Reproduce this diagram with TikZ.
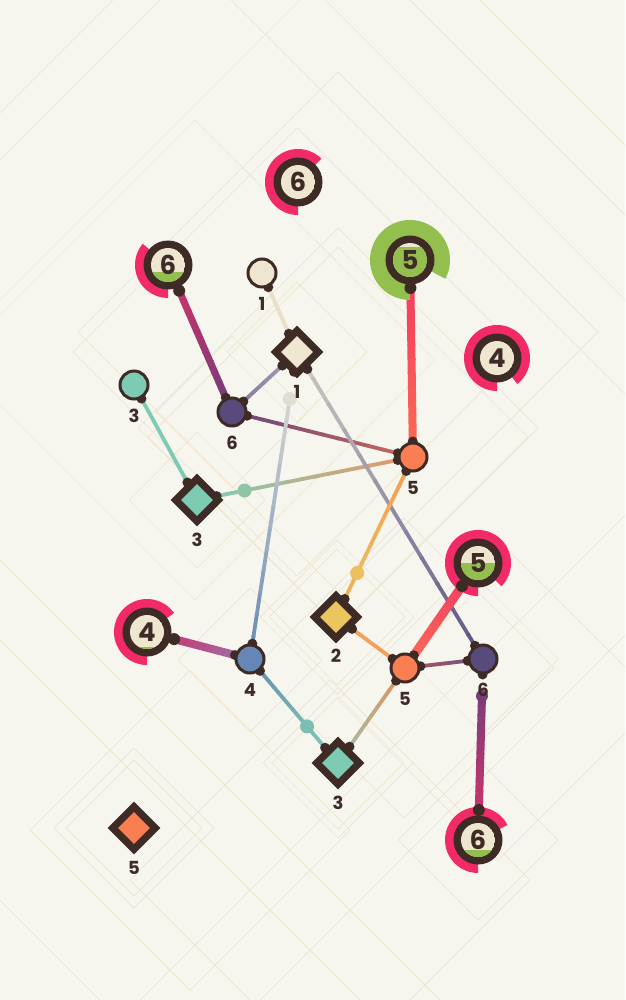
\documentclass[tikz,border=0pt]{standalone}
\usepackage{fontspec}
\newfontfamily\numfont{Poppins}
\usetikzlibrary{calc,shapes.geometric}
\pgfdeclarelayer{back}
\pgfdeclarelayer{edges}
\pgfdeclarelayer{nubs}
\pgfsetlayers{back,edges,nubs,main}
\definecolor{bg}{HTML}{F6F5EE}
\definecolor{bgline}{HTML}{EDE5CE}
\definecolor{dark}{HTML}{3F2B26}
\definecolor{cream}{HTML}{EFE6D0}
\definecolor{pinkarc}{HTML}{F22A68}
\definecolor{greenarc}{HTML}{92BF4E}
\definecolor{teal}{HTML}{7ECBB4}
\definecolor{purp}{HTML}{594A7C}
\definecolor{orng}{HTML}{F97E51}
\definecolor{yell}{HTML}{EBC55F}
\definecolor{blu}{HTML}{6587B5}
\definecolor{mA}{HTML}{C9336C}\definecolor{mB}{HTML}{6F3C7A}
\definecolor{pgA}{HTML}{7F739A}\definecolor{pgB}{HTML}{A9A1B9}
\definecolor{prA}{HTML}{6C4679}\definecolor{prB}{HTML}{C8695C}
\definecolor{cA}{HTML}{F43E5E}\definecolor{cB}{HTML}{FA6B55}
\definecolor{otA}{HTML}{E6956A}\definecolor{otB}{HTML}{98C4A2}
\definecolor{tgA}{HTML}{8DC5A8}
\definecolor{creamline}{HTML}{E8DFC8}
\definecolor{gpA}{HTML}{D2CCC3}\definecolor{gpB}{HTML}{5C5285}
\definecolor{bgA}{HTML}{6587B5}\definecolor{bgB}{HTML}{D6D5D1}
\definecolor{oyA}{HTML}{F69A52}\definecolor{oyB}{HTML}{EEB95C}
\definecolor{oyC}{HTML}{EFB257}
\definecolor{orA}{HTML}{F3A05A}
\definecolor{cC}{HTML}{F2425F}\definecolor{cD}{HTML}{F96F58}
\definecolor{rpA}{HTML}{B0525F}\definecolor{rpB}{HTML}{6E5480}
\definecolor{otC}{HTML}{E58E5F}\definecolor{otD}{HTML}{9EC2A8}
\definecolor{btA}{HTML}{6289B2}\definecolor{btB}{HTML}{7BBBB5}
\definecolor{mvA}{HTML}{C43C78}\definecolor{mvB}{HTML}{9A74A8}
\definecolor{ppA}{HTML}{7B3D79}\definecolor{ppB}{HTML}{C9336C}
\definecolor{rd1}{HTML}{8FC4A5}\definecolor{rd2}{HTML}{E2DDD2}
\definecolor{rd3}{HTML}{EDBF5E}\definecolor{rd4}{HTML}{7CBDB6}
\tikzset{
 srccirc/.style={circle, draw=dark, line width=3pt, minimum size=28pt, inner sep=0pt},
 srcdiam/.style={diamond, fill=dark, minimum width=53pt, minimum height=53pt, inner sep=0pt},
 srcdiamin/.style={diamond, minimum width=32pt, minimum height=32pt, inner sep=0pt},
 lbl/.style={font=\numfont\bfseries\fontsize{18}{18}\selectfont, text=dark, inner sep=0pt},
 sinknum/.style={font=\numfont\bfseries\fontsize{26}{26}\selectfont, text=dark, inner sep=0pt},
 bgl/.style={draw=bgline, line width=0.7pt},
 thin/.style={line width=3.8pt},
}
\newcommand{\gradline}[5]{%
 \foreach \gi in {0,...,11}{%
  \pgfmathsetmacro\gta{\gi/12}%
  \pgfmathsetmacro\gtb{min(1,(\gi+1.1)/12)}%
  \pgfmathtruncatemacro\gpc{100-(\gi+0.5)*100/12}%
  \draw[line width=#5, color=#3!\gpc!#4] ($(#1)!\gta!(#2)$) -- ($(#1)!\gtb!(#2)$);
 }%
}
\newcommand{\nubat}[3]{\fill[dark] ($(#1)!#3!(#2)$) circle[radius=5pt];}
\newcommand{\sinknode}[9]{%
 \fill[#5] ($(#2,-#3)+(#6:#8pt)$) arc[start angle=#6, end angle=#7, radius=#8pt] -- ($(#2,-#3)+(#7:24pt)$) arc[start angle=#7, end angle=#6, radius=24pt] -- cycle;
 \node[circle, fill=dark, minimum size=49pt, inner sep=0pt] (#1) at (#2,-#3) {};
 \begin{scope}
  \clip (#1.center) circle[radius=17pt];
  \fill[cream] (#1.center) circle[radius=17pt];
  \fill[greenarc] ($(#1.center)+(-20pt,-20pt)$) rectangle ($(#1.center)+(20pt,#9pt)$);
 \end{scope}
 \node[sinknum] (#1n) at (#1.center) {#4};
}
\begin{document}
\begin{tikzpicture}[x=1pt,y=1pt]
\useasboundingbox (0,0) rectangle (625,-1000);
\begin{pgfonlayer}{back}
\fill[bg] (0,0) rectangle (625,-1000);
\begin{scope}
\clip (0,0) rectangle (625,-1000);
\foreach \cx/\cy/\dr in {338/332/260, 195/360/240, 297/352/224, 338/428/200, 338/437/190, 197/500/68, 297/352/70, 337/617/77, 337/617/68, 338/763/75, 338/763/66, 134/828/68, 134/828/80, 250/660/72, 483/659/75, 404/668/150, 478/840/80, 232/412/76, 498/700/160, 190/830/160, 330/880/200}{
 \draw[bgl] (\cx,-\cy) ++(0,\dr) -- ++(\dr,-\dr) -- ++(-\dr,-\dr) -- ++(-\dr,\dr) -- cycle;}
\draw[bgl] (0,-113) -- (113,0);
\draw[bgl] (0,-160) -- (160,0);
\draw[bgl] (0,-300) -- (300,0);
\draw[bgl] (231,0) -- (625,-394);
\draw[bgl] (325,0) -- (625,-300);
\draw[bgl] (410,0) -- (625,-215);
\draw[bgl] (480,0) -- (625,-145);
\draw[bgl] (0,-560) -- (440,-1000);
\draw[bgl] (0,-900) -- (100,-1000);
\draw[bgl] (140,-1000) -- (625,-515);
\draw[bgl] (260,-1000) -- (625,-635);
\draw[bgl] (0,-640) -- (360,-1000);
\end{scope}
\end{pgfonlayer}

% sinks
\sinknode{s6a}{298}{182}{6}{pinkarc}{45}{270}{33}{-20}
\sinknode{s6b}{168}{265}{6}{pinkarc}{140}{270}{33}{-7}
\sinknode{s5a}{410}{260}{5}{greenarc}{-28}{270}{40}{13}
\sinknode{s4a}{497}{358}{4}{pinkarc}{-52}{270}{33}{-20}
\sinknode{s5b}{478}{563}{5}{pinkarc}{-45}{270}{33}{0}
\sinknode{s4b}{147}{632}{4}{pinkarc}{35}{270}{33}{-15}
\sinknode{s6c}{478}{840}{6}{pinkarc}{27}{270}{33}{-10}

% sources
\node[srccirc, fill=cream] (c1) at (262,-273) {};
\node[srcdiam] (d1) at (297,-352) {};
\node[srcdiamin, fill=cream] (d1i) at (d1) {};
\node[srccirc, fill=teal] (c3) at (134,-385) {};
\node[srccirc, fill=purp] (p6a) at (232,-412) {};
\node[srcdiam] (d3a) at (197,-500) {};
\node[srcdiamin, fill=teal] (d3ai) at (d3a) {};
\node[srccirc, fill=orng] (o5a) at (413,-457) {};
\node[srcdiam] (d2) at (336,-617) {};
\node[srcdiamin, fill=yell] (d2i) at (d2) {};
\node[srccirc, fill=orng] (o5b) at (405,-668) {};
\node[srccirc, fill=purp] (p6b) at (483,-659) {};
\node[srccirc, fill=blu] (b4) at (250,-659) {};
\node[srcdiam] (d3b) at (338,-763) {};
\node[srcdiamin, fill=teal] (d3bi) at (d3b) {};
\node[srcdiam] (d5) at (134,-828) {};
\node[srcdiamin, fill=orng] (d5i) at (d5) {};

% ports and relays
\coordinate (s6bp) at ($(s6b)!28pt!(p6a)$);
\coordinate (s5ap) at ($(s5a)!28pt!(o5a)$);
\coordinate (s5bp) at ($(s5b)!28pt!(o5b)$);
\coordinate (s4bp) at ($(s4b)!28pt!(b4)$);
\coordinate (s6cp) at ($(s6c)!30pt!(p6b)$);
\coordinate (r1) at ($(o5a)!0.78!(d3a)$);
\coordinate (r2) at ($(d1)!0.153!(b4)$);
\coordinate (r3) at ($(o5a)!0.725!(d2)$);
\coordinate (r4) at ($(b4)!0.648!(d3b)$);
\coordinate (p6bt) at ($(p6b)!37pt!(s6c)$);
\foreach \pp in {s6bp,s5ap,s5bp,s4bp,s6cp}{\fill[dark] (\pp) circle[radius=6pt];}

% labels
\node[lbl] (lc1) at ($(c1)+(0,-31)$) {1};
\node[lbl] (ld1) at ($(d1)+(0,-40)$) {1};
\node[lbl] (lc3) at ($(c3)+(0,-31)$) {3};
\node[lbl] (lp6a) at ($(p6a)+(0,-31)$) {6};
\node[lbl] (ld3a) at ($(d3a)+(0,-40)$) {3};
\node[lbl] (lo5a) at ($(o5a)+(0,-31)$) {5};
\node[lbl] (ld2) at ($(d2)+(0,-39)$) {2};
\node[lbl] (lo5b) at ($(o5b)+(0,-31)$) {5};
\node[lbl] (lp6b) at ($(p6b)+(0,-31)$) {6};
\node[lbl] (lb4) at ($(b4)+(0,-31)$) {4};
\node[lbl] (ld3b) at ($(d3b)+(0,-40)$) {3};
\node[lbl] (ld5) at ($(d5)+(0,-40)$) {5};

\begin{pgfonlayer}{edges}
\gradline{s6bp}{p6a}{mA}{mB}{7pt}
\gradline{p6a}{d1}{pgA}{pgB}{3.8pt}
\gradline{p6a}{o5a}{prA}{prB}{3.8pt}
\gradline{s5ap}{o5a}{cA}{cB}{8pt}
\gradline{o5a}{r1}{otA}{otB}{3.8pt}
\gradline{r1}{d3a}{tgA}{teal}{3.8pt}
\draw[thin, teal] (c3) -- (d3a);
\draw[thin, creamline] (c1) -- (d1);
\gradline{d1}{p6b}{gpA}{gpB}{3.8pt}
\gradline{b4}{r2}{bgA}{bgB}{3.8pt}
\gradline{o5a}{r3}{oyA}{oyB}{3.8pt}
\draw[thin, oyC] (r3) -- (d2);
\draw[thin, orA] (d2) -- (o5b);
\gradline{s5bp}{o5b}{cC}{cD}{9pt}
\gradline{o5b}{p6b}{rpA}{rpB}{3.8pt}
\gradline{o5b}{d3b}{otC}{otD}{3.8pt}
\gradline{b4}{r4}{btA}{btB}{3.8pt}
\gradline{r4}{d3b}{btB}{teal}{3.8pt}
\gradline{s4bp}{b4}{mvA}{mvB}{8pt}
\gradline{p6bt}{s6cp}{ppA}{ppB}{8pt}
\fill[rd1] (r1) circle[radius=7pt];
\fill[rd2] (r2) circle[radius=7pt];
\fill[rd3] (r3) circle[radius=7pt];
\fill[rd4] (r4) circle[radius=7pt];
\fill[ppA] (p6bt) circle[radius=6pt];
\end{pgfonlayer}

\begin{pgfonlayer}{nubs}
\nubat{c1}{d1}{15.5pt}
\nubat{d1}{c1}{20pt}
\nubat{d1}{p6a}{20pt}
\nubat{d1}{b4}{20pt}
\nubat{d1}{p6b}{20pt}
\nubat{c3}{d3a}{15.5pt}
\nubat{p6a}{s6b}{15.5pt}
\nubat{p6a}{d1}{15.5pt}
\nubat{p6a}{o5a}{15.5pt}
\nubat{d3a}{c3}{20pt}
\nubat{d3a}{o5a}{20pt}
\nubat{o5a}{s5a}{15.5pt}
\nubat{o5a}{p6a}{15.5pt}
\nubat{o5a}{d3a}{15.5pt}
\nubat{o5a}{d2}{15.5pt}
\nubat{d2}{o5a}{20pt}
\nubat{d2}{o5b}{20pt}
\nubat{o5b}{d2}{15.5pt}
\nubat{o5b}{s5b}{15.5pt}
\nubat{o5b}{p6b}{15.5pt}
\nubat{o5b}{d3b}{15.5pt}
\nubat{p6b}{d1}{15.5pt}
\nubat{p6b}{o5b}{15.5pt}
\nubat{p6b}{s6c}{15.5pt}
\nubat{b4}{d1}{15.5pt}
\nubat{b4}{s4b}{15.5pt}
\nubat{b4}{d3b}{15.5pt}
\nubat{d3b}{b4}{20pt}
\nubat{d3b}{o5b}{20pt}
\end{pgfonlayer}
\end{tikzpicture}
\end{document}
